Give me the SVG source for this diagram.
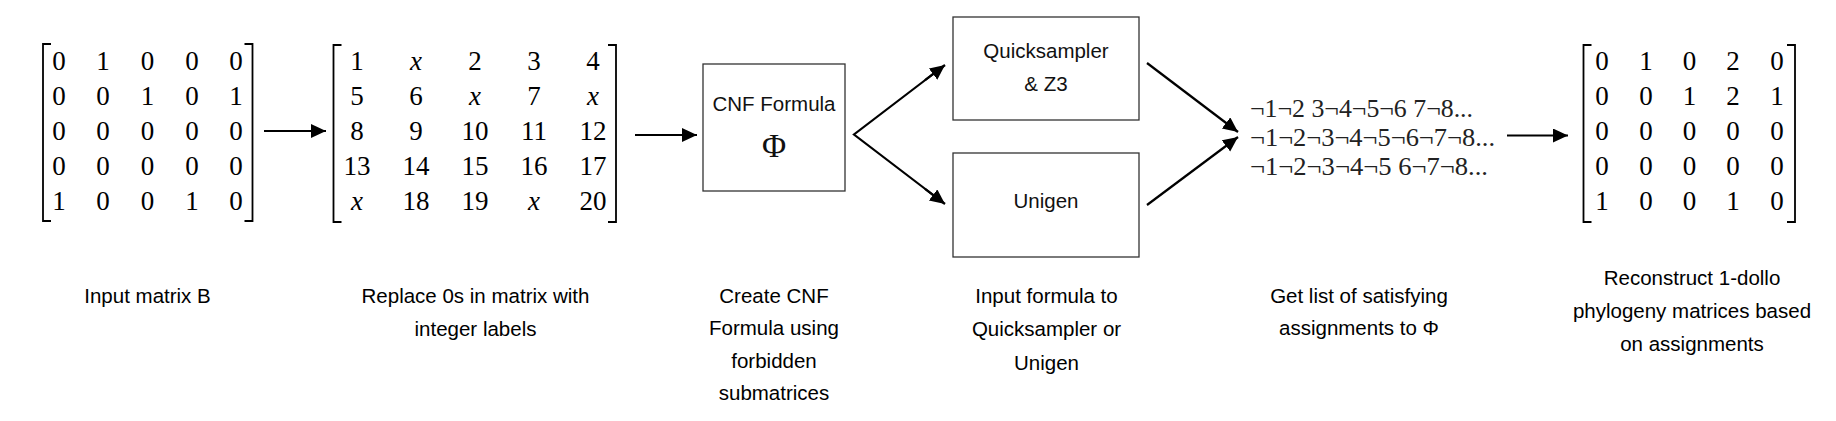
<svg xmlns="http://www.w3.org/2000/svg" width="1836" height="421" viewBox="0 0 1836 421">
<style>
.bg{fill:#fff}
.m{font-family:"Liberation Serif","Times New Roman",serif;font-size:27px;fill:#000;text-anchor:middle}
.mi{font-style:italic}
.br{fill:none;stroke:#000;stroke-width:1.8}
.box{fill:#fff;stroke:#333;stroke-width:1.3}
.bt{font-family:"Liberation Sans",Arial,sans-serif;font-size:20.5px;fill:#111;text-anchor:middle}
.phi{font-family:"Liberation Serif","Times New Roman",serif;font-size:33px;fill:#111;text-anchor:middle}
.cap{font-family:"Liberation Sans",Arial,sans-serif;font-size:20.5px;fill:#000;text-anchor:middle}
.asg{font-family:"Liberation Serif","Times New Roman",serif;font-size:24.5px;fill:#222}
.cn{fill:none;stroke:#000;stroke-width:2.2}
</style>
<defs>
<marker id="ah" markerUnits="userSpaceOnUse" markerWidth="16" markerHeight="15" refX="15" refY="7" orient="auto">
<path d="M0,0 L15,7 L0,14 Z" fill="#000"/>
</marker>
</defs>
<rect class="bg" x="0" y="0" width="1836" height="421"/>

<g id="connectors">
<line class="cn" x1="264" y1="131" x2="326" y2="131" marker-end="url(#ah)"/>
<line class="cn" x1="635" y1="135" x2="697" y2="135" marker-end="url(#ah)"/>
<polyline class="cn" points="943,66.5 854,134.5 943,202.5"/>
<line class="cn" x1="925" y1="80.2" x2="945" y2="65" marker-end="url(#ah)"/>
<line class="cn" x1="925" y1="188.8" x2="945" y2="204" marker-end="url(#ah)"/>
<line class="cn" x1="1147" y1="63" x2="1238" y2="132" marker-end="url(#ah)"/>
<line class="cn" x1="1147" y1="205" x2="1238" y2="137" marker-end="url(#ah)"/>
<line class="cn" x1="1507" y1="135.5" x2="1568" y2="135.5" marker-end="url(#ah)"/>
</g>

<g id="matrix-input">
<path class="br" d="M51,44 H43 V221 H51"/>
<path class="br" d="M244.5,44 H252.5 V221 H244.5"/>
<g class="m">
<text x="59" y="69.5">0</text><text x="103" y="69.5">1</text><text x="147.5" y="69.5">0</text><text x="192" y="69.5">0</text><text x="236" y="69.5">0</text>
<text x="59" y="104.5">0</text><text x="103" y="104.5">0</text><text x="147.5" y="104.5">1</text><text x="192" y="104.5">0</text><text x="236" y="104.5">1</text>
<text x="59" y="139.5">0</text><text x="103" y="139.5">0</text><text x="147.5" y="139.5">0</text><text x="192" y="139.5">0</text><text x="236" y="139.5">0</text>
<text x="59" y="174.5">0</text><text x="103" y="174.5">0</text><text x="147.5" y="174.5">0</text><text x="192" y="174.5">0</text><text x="236" y="174.5">0</text>
<text x="59" y="209.5">1</text><text x="103" y="209.5">0</text><text x="147.5" y="209.5">0</text><text x="192" y="209.5">1</text><text x="236" y="209.5">0</text>
</g>
</g>

<g id="matrix-labeled">
<path class="br" d="M341.5,45 H333.5 V222 H341.5"/>
<path class="br" d="M608,45 H616 V222 H608"/>
<g class="m">
<text x="357" y="69.5">1</text><text class="mi" x="416" y="69.5">x</text><text x="475" y="69.5">2</text><text x="534" y="69.5">3</text><text x="593" y="69.5">4</text>
<text x="357" y="104.5">5</text><text x="416" y="104.5">6</text><text class="mi" x="475" y="104.5">x</text><text x="534" y="104.5">7</text><text class="mi" x="593" y="104.5">x</text>
<text x="357" y="139.5">8</text><text x="416" y="139.5">9</text><text x="475" y="139.5">10</text><text x="534" y="139.5">11</text><text x="593" y="139.5">12</text>
<text x="357" y="174.5">13</text><text x="416" y="174.5">14</text><text x="475" y="174.5">15</text><text x="534" y="174.5">16</text><text x="593" y="174.5">17</text>
<text class="mi" x="357" y="209.5">x</text><text x="416" y="209.5">18</text><text x="475" y="209.5">19</text><text class="mi" x="534" y="209.5">x</text><text x="593" y="209.5">20</text>
</g>
</g>

<g id="cnf">
<rect class="box" x="703" y="64" width="142" height="127"/>
<text class="bt" x="774" y="110.5">CNF Formula</text>
<text class="phi" x="774" y="157">Φ</text>
</g>

<g id="quicksampler">
<rect class="box" x="953" y="17" width="186" height="103"/>
<text class="bt" x="1046" y="58.3">Quicksampler</text>
<text class="bt" x="1046" y="91">&amp; Z3</text>
</g>

<g id="unigen">
<rect class="box" x="953" y="153" width="186" height="104"/>
<text class="bt" x="1046" y="207.7">Unigen</text>
</g>

<g id="assignments" class="asg">
<text x="1250" y="117.3" textLength="223" lengthAdjust="spacingAndGlyphs">¬1¬2 3¬4¬5¬6 7¬8...</text>
<text x="1250" y="146.3" textLength="245" lengthAdjust="spacingAndGlyphs">¬1¬2¬3¬4¬5¬6¬7¬8...</text>
<text x="1250" y="175.3" textLength="238" lengthAdjust="spacingAndGlyphs">¬1¬2¬3¬4¬5 6¬7¬8...</text>
</g>

<g id="matrix-output">
<path class="br" d="M1591.5,45 H1583.5 V222 H1591.5"/>
<path class="br" d="M1787,45 H1795 V222 H1787"/>
<g class="m">
<text x="1602" y="69.5">0</text><text x="1646" y="69.5">1</text><text x="1689.5" y="69.5">0</text><text x="1733" y="69.5">2</text><text x="1777" y="69.5">0</text>
<text x="1602" y="104.5">0</text><text x="1646" y="104.5">0</text><text x="1689.5" y="104.5">1</text><text x="1733" y="104.5">2</text><text x="1777" y="104.5">1</text>
<text x="1602" y="139.5">0</text><text x="1646" y="139.5">0</text><text x="1689.5" y="139.5">0</text><text x="1733" y="139.5">0</text><text x="1777" y="139.5">0</text>
<text x="1602" y="174.5">0</text><text x="1646" y="174.5">0</text><text x="1689.5" y="174.5">0</text><text x="1733" y="174.5">0</text><text x="1777" y="174.5">0</text>
<text x="1602" y="209.5">1</text><text x="1646" y="209.5">0</text><text x="1689.5" y="209.5">0</text><text x="1733" y="209.5">1</text><text x="1777" y="209.5">0</text>
</g>
</g>

<g id="captions" class="cap">
<text x="147.5" y="302.5">Input matrix B</text>
<text x="475.5" y="302.5">Replace 0s in matrix with</text>
<text x="475.5" y="335.5">integer labels</text>
<text x="774" y="303">Create CNF</text>
<text x="774" y="335">Formula using</text>
<text x="774" y="367.5">forbidden</text>
<text x="774" y="399.5">submatrices</text>
<text x="1046.5" y="303">Input formula to</text>
<text x="1046.5" y="336">Quicksampler or</text>
<text x="1046.5" y="369.5">Unigen</text>
<text x="1359" y="302.5">Get list of satisfying</text>
<text x="1359" y="335">assignments to Φ</text>
<text x="1692" y="285">Reconstruct 1-dollo</text>
<text x="1692" y="318">phylogeny matrices based</text>
<text x="1692" y="351">on assignments</text>
</g>
</svg>
